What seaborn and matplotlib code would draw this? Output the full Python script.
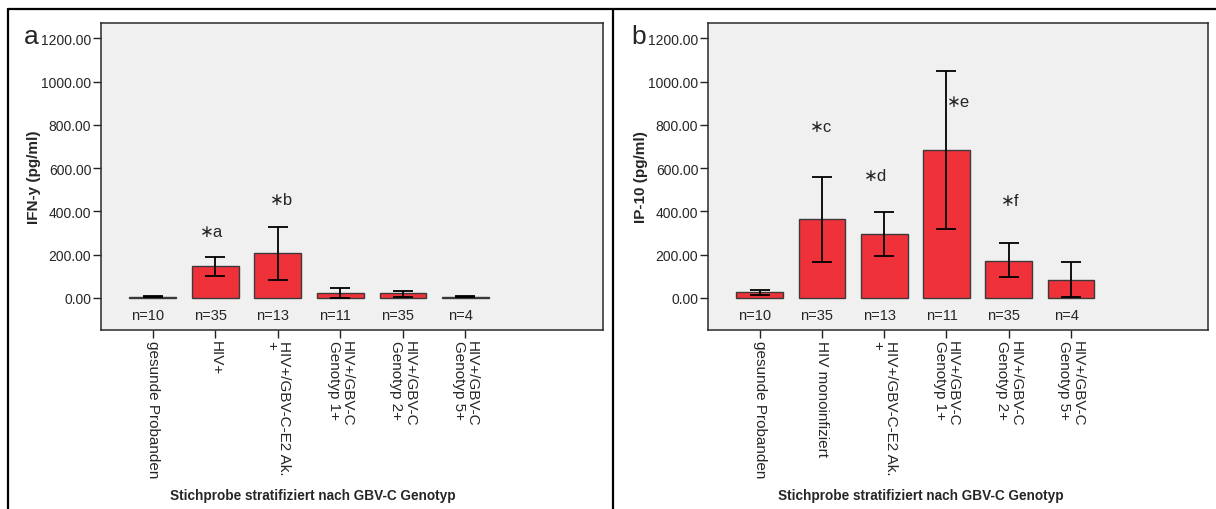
import matplotlib
matplotlib.use("Agg")
import matplotlib.pyplot as plt
from matplotlib.lines import Line2D
import numpy as np
import pandas as pd
import seaborn as sns

# Group labels (x axis) for both panels
labels_a = ["gesunde Probanden", "HIV+", "HIV+/GBV-C-E2 Ak.\n+",
            "HIV+/GBV-C\nGenotyp 1+", "HIV+/GBV-C\nGenotyp 2+", "HIV+/GBV-C\nGenotyp 5+"]
labels_b = ["gesunde Probanden", "HIV monoinfiziert", "HIV+/GBV-C-E2 Ak.\n+",
            "HIV+/GBV-C\nGenotyp 1+", "HIV+/GBV-C\nGenotyp 2+", "HIV+/GBV-C\nGenotyp 5+"]
n_counts = ["n=10", "n=35", "n=13", "n=11", "n=35", "n=4"]

# IFN-y (pg/ml): means and error bar limits
ifn_mean = [6, 146, 206, 22, 22, 5]
ifn_low = [3, 102, 85, -2, 6, 3]
ifn_high = [11, 188, 328, 48, 34, 7]

# IP-10 (pg/ml): means and error bar limits
ip10_mean = [26, 364, 295, 684, 173, 83]
ip10_low = [14, 168, 193, 321, 99, 6]
ip10_high = [39, 559, 397, 1050, 252, 164]

# Significance marks
marks_a = ["∗a", "∗b"]
marks_b = ["∗c", "∗d", "∗e", "∗f"]

tick_values = [0, 200, 400, 600, 800, 1000, 1200]

sns.set_theme(style="white")
plt.rcParams["font.family"] = ["Liberation Sans", "DejaVu Sans"]

BAR_RED = "#EF3139"
EDGE = "#3a3a3a"
PANEL_BG = "#F0F0F0"

fig = plt.figure(figsize=(12.16, 5.10), dpi=100)


def draw_panel(ax, labels, mean, low, high, ylabel, letter, marks, mark_pos):
    df = pd.DataFrame({"group": list(range(len(mean))), "value": mean})
    sns.barplot(data=df, x="group", y="value", color=BAR_RED, saturation=1,
                edgecolor=EDGE, linewidth=1.0, width=0.75, errorbar=None, ax=ax)
    m = np.asarray(mean, float)
    yerr = [m - np.asarray(low, float), np.asarray(high, float) - m]
    ax.errorbar(np.arange(len(m)), m, yerr=yerr, fmt="none", ecolor="black",
                elinewidth=1.3, capsize=7, capthick=1.3, zorder=5)

    ax.set_facecolor(PANEL_BG)
    ax.set_xlim(-0.83, 7.2)
    ax.set_ylim(-148, 1271)
    ax.set_yticks(tick_values)
    ax.set_yticklabels([f"{v:.2f}" for v in tick_values], fontsize=10)
    ax.set_xticks(range(len(labels)))
    ax.set_xticklabels(labels, rotation=270, ha="center", va="top",
                       multialignment="left", fontsize=11, linespacing=0.92)
    ax.tick_params(axis="both", direction="out", length=6, width=1,
                   color="#222222", bottom=True, left=True, pad=1)
    for s in ax.spines.values():
        s.set_color("#2a2a2a")
        s.set_linewidth(1.1)
        s.set_visible(True)
    ax.set_xlabel("")
    ax.set_ylabel(ylabel, fontsize=11, fontweight="bold")

    for i, t in enumerate(n_counts):
        ax.text(i - 0.08, -78, t, ha="center", va="center", fontsize=10.5)
    for t, (x, y) in zip(marks, mark_pos):
        ax.text(x, y, t, ha="center", va="center", fontsize=12)

    ax.text(-0.139, 0.958, letter, transform=ax.transAxes, fontsize=19,
            ha="center", va="center")


ax_a = fig.add_axes([101 / 1216, 1 - 331 / 510, 502 / 1216, 307 / 510])
ax_b = fig.add_axes([708 / 1216, 1 - 331 / 510, 500 / 1216, 307 / 510])

draw_panel(ax_a, labels_a, ifn_mean, ifn_low, ifn_high, "IFN-y (pg/ml)", "a",
           marks_a, [(0.94, 305), (2.05, 456)])
draw_panel(ax_b, labels_b, ip10_mean, ip10_low, ip10_high, "IP-10 (pg/ml)", "b",
           marks_b, [(0.98, 793), (1.86, 567), (3.19, 909), (4.03, 452)])

for ax in (ax_a, ax_b):
    ax.yaxis.set_label_coords(-0.12, 0.5)

# Axis titles centred under the groups
fig.text(313 / 1216, 1 - 496 / 510, "Stichprobe stratifiziert nach GBV-C Genotyp",
         ha="center", va="center", fontsize=9.8, fontweight="bold")
fig.text(921 / 1216, 1 - 496 / 510, "Stichprobe stratifiziert nach GBV-C Genotyp",
         ha="center", va="center", fontsize=9.8, fontweight="bold")

# Outer frame lines around the two panels
W, H = 1216, 510
frame = [((8, 1216), (10, 10)), ((8, 8), (10, 510)), ((613, 613), (10, 510))]
for xs, ys in frame:
    fig.add_artist(Line2D([x / W for x in xs], [1 - y / H for y in ys],
                          color="black", linewidth=1.6, transform=fig.transFigure))

fig.savefig("out.png", dpi=100)
